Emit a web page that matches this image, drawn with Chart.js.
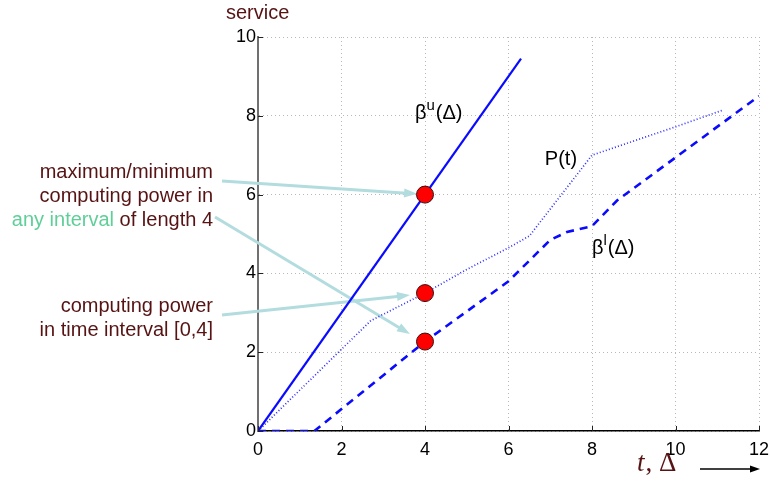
<!DOCTYPE html>
<html>
<head>
<meta charset="utf-8">
<script src="https://cdn.jsdelivr.net/npm/chart.js@4"></script>
<style>
  html, body { margin: 0; padding: 0; background: #fff; }
  #wrap { width: 770px; height: 486px; }
</style>
</head>
<body>
<div id="wrap"><canvas id="service"></canvas></div>
<script>
// upper service curve, beta^u(delta)
const upperX = [0, 6.3];
const upperY = [0, 9.45];
// actual service P(t)
const powerX = [0, 2.7, 4, 5, 6, 6.5, 8, 10, 11.15];
const powerY = [0, 2.8, 3.5, 4.1, 4.65, 4.95, 7.0, 7.72, 8.15];
// lower service curve, beta^l(delta)
const lowerX = [0, 1.35, 4, 6, 7, 7.4, 8, 8.6, 12];
const lowerY = [0, 0, 2.27, 3.8, 4.85, 5.05, 5.2, 5.85, 8.5];
// values at delta = 4
const dotX = [4, 4, 4];
const dotY = [6, 3.5, 2.27];

const xTicks = [0, 2, 4, 6, 8, 10, 12];
const yTicks = [0, 2, 4, 6, 8, 10];

const maroon = '#571313';
const cyan = '#b3dcdf';
const sans = '"Liberation Sans", Arial, sans-serif';

const pts = (xs, ys) => xs.map((x, i) => ({ x: x, y: ys[i] }));

function arrow(ctx, x1, y1, x2, y2, color, width, head) {
    const a = Math.atan2(y2 - y1, x2 - x1);
    ctx.save();
    ctx.strokeStyle = color;
    ctx.fillStyle = color;
    ctx.lineWidth = width;
    ctx.beginPath();
    ctx.moveTo(x1, y1);
    ctx.lineTo(x2 - Math.cos(a) * head * 0.8, y2 - Math.sin(a) * head * 0.8);
    ctx.stroke();
    ctx.beginPath();
    ctx.moveTo(x2, y2);
    ctx.lineTo(x2 - head * Math.cos(a) + head * 0.35 * Math.sin(a), y2 - head * Math.sin(a) - head * 0.35 * Math.cos(a));
    ctx.lineTo(x2 - head * Math.cos(a) - head * 0.35 * Math.sin(a), y2 - head * Math.sin(a) + head * 0.35 * Math.cos(a));
    ctx.closePath();
    ctx.fill();
    ctx.restore();
}

// beta with a superscript, then (Δ)
function betaLabel(ctx, x, y, sup) {
    ctx.save();
    ctx.fillStyle = '#000';
    ctx.textBaseline = 'alphabetic';
    ctx.textAlign = 'left';
    ctx.font = '20px ' + sans;
    ctx.fillText('β', x, y);
    let w = ctx.measureText('β').width;
    ctx.font = '15px ' + sans;
    ctx.fillText(sup, x + w, y - 9);
    w += ctx.measureText(sup).width + 1;
    ctx.font = '20px ' + sans;
    ctx.fillText('(Δ)', x + w, y);
    ctx.restore();
}

const annotations = {
    id: 'annotations',
    beforeDatasetsDraw(chart) {
        const ctx = chart.ctx;
        const xs = chart.scales.x;
        const ys = chart.scales.y;
        // pointers from the notes to the marked values
        arrow(ctx, 222, 181, xs.getPixelForValue(3.81), ys.getPixelForValue(6.02), cyan, 3, 13);
        arrow(ctx, 215, 217, xs.getPixelForValue(3.64), ys.getPixelForValue(2.46), cyan, 3, 13);
        arrow(ctx, 222, 315, xs.getPixelForValue(3.64), ys.getPixelForValue(3.45), cyan, 3, 13);
    },
    afterDraw(chart) {
        const ctx = chart.ctx;
        const xs = chart.scales.x;
        const ys = chart.scales.y;
        const area = chart.chartArea;

        // inward tick marks
        ctx.save();
        ctx.strokeStyle = '#222';
        ctx.lineWidth = 1;
        yTicks.forEach(v => {
            const py = Math.round(ys.getPixelForValue(v)) + 0.5;
            ctx.beginPath();
            ctx.moveTo(area.left, py);
            ctx.lineTo(area.left + 5, py);
            ctx.stroke();
        });
        xTicks.forEach(v => {
            const px = Math.round(xs.getPixelForValue(v)) + 0.5;
            ctx.beginPath();
            ctx.moveTo(px, area.bottom);
            ctx.lineTo(px, area.bottom - 5);
            ctx.stroke();
        });
        ctx.restore();

        betaLabel(ctx, xs.getPixelForValue(3.76), ys.getPixelForValue(7.92), 'u');
        betaLabel(ctx, xs.getPixelForValue(8.0), ys.getPixelForValue(4.49), 'l');

        ctx.save();
        ctx.fillStyle = '#000';
        ctx.font = '20px ' + sans;
        ctx.textAlign = 'left';
        ctx.fillText('P(t)', xs.getPixelForValue(6.87), ys.getPixelForValue(6.75));

        // notes on the left
        ctx.font = '20px ' + sans;
        ctx.textAlign = 'right';
        ctx.fillStyle = maroon;
        ctx.fillText('maximum/minimum', 213, 178);
        ctx.fillText('computing power in', 213, 202);
        ctx.fillText('of length 4', 213, 226);
        const tail = ctx.measureText(' of length 4').width;
        ctx.fillStyle = '#5fcf98';
        ctx.fillText('any interval', 213 - tail, 226);
        ctx.fillStyle = maroon;
        ctx.fillText('computing power', 213, 312);
        ctx.fillText('in time interval [0,4]', 213, 336);

        // axis titles
        ctx.textAlign = 'left';
        ctx.font = '20px ' + sans;
        ctx.fillText('service', 226, 19);
        ctx.font = 'italic 27px "Liberation Serif", "DejaVu Serif", serif';
        ctx.fillText('t', 637, 471);
        const tw = ctx.measureText('t').width;
        ctx.font = '27px "Liberation Serif", "DejaVu Serif", serif';
        ctx.fillText(', Δ', 637 + tw + 1, 471);
        ctx.restore();

        arrow(ctx, 700, 469, 760, 469, '#000', 1.5, 10);
    }
};

new Chart(document.getElementById('service'), {
    type: 'line',
    data: {
        datasets: [
            {
                label: 'at Δ = 4',
                data: pts(dotX, dotY),
                showLine: false,
                pointRadius: 8.5,
                pointBackgroundColor: '#ff0000',
                pointBorderColor: '#3a1010',
                pointBorderWidth: 1
            },
            {
                label: 'βu(Δ)',
                data: pts(upperX, upperY),
                borderColor: '#0a0aff',
                borderWidth: 2.2,
                pointRadius: 0
            },
            {
                label: 'P(t)',
                data: pts(powerX, powerY),
                borderColor: '#3030ff',
                borderWidth: 1.7,
                borderDash: [1, 2.2],
                pointRadius: 0
            },
            {
                label: 'βl(Δ)',
                data: pts(lowerX, lowerY),
                borderColor: '#0a0aff',
                borderWidth: 2.6,
                borderDash: [8, 6],
                pointRadius: 0
            }
        ]
    },
    options: {
        responsive: true,
        maintainAspectRatio: false,
        animation: false,
        layout: { padding: { left: 228, top: 37, right: 11, bottom: 0 } },
        plugins: { legend: { display: false }, tooltip: { enabled: false } },
        scales: {
            x: {
                type: 'linear',
                min: 0,
                max: 12,
                afterFit: s => { s.height = 55; s.paddingLeft = 0; s.paddingRight = 0; },
                afterBuildTicks: s => { s.ticks = xTicks.map(v => ({ value: v })); },
                ticks: { color: '#000', font: { size: 18, family: sans }, padding: 8, maxRotation: 0 },
                grid: { color: '#b8b8b8', drawTicks: false, lineWidth: 1 },
                border: { color: '#000', width: 1.5, dash: [1, 3] }
            },
            y: {
                min: 0,
                max: 10,
                afterFit: s => { s.width = 30; s.paddingTop = 0; s.paddingBottom = 0; },
                afterBuildTicks: s => { s.ticks = yTicks.map(v => ({ value: v })); },
                ticks: { color: '#000', font: { size: 18, family: sans }, padding: 2 },
                grid: { color: '#b8b8b8', drawTicks: false, lineWidth: 1 },
                border: { color: '#707070', width: 2, dash: [1, 3] }
            }
        }
    },
    plugins: [annotations]
});
</script>
</body>
</html>
